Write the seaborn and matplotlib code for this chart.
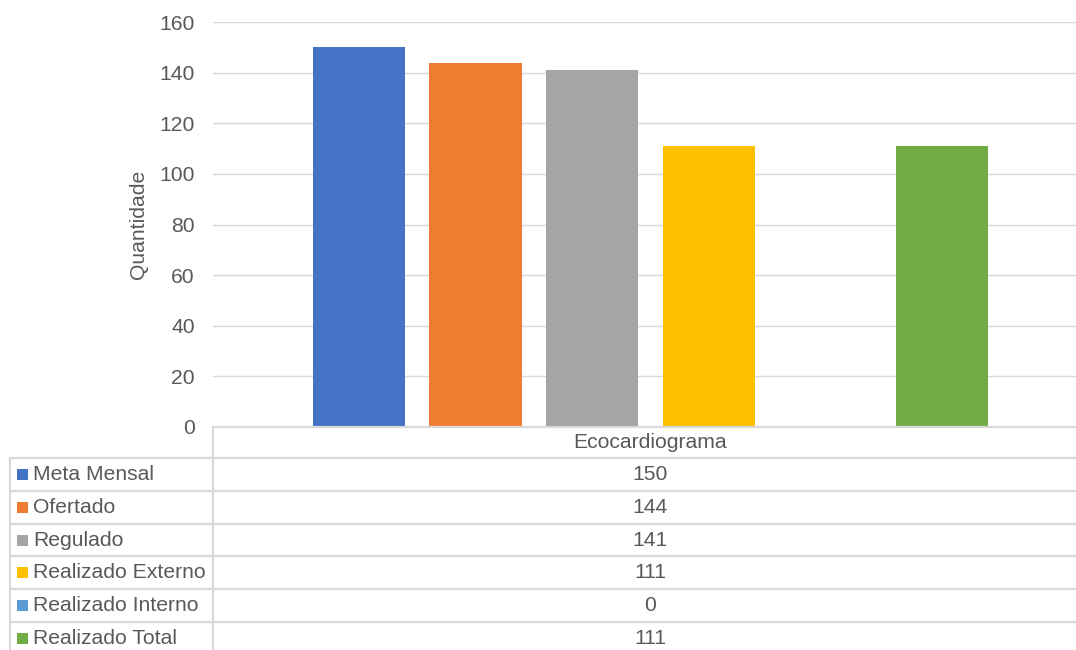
import pandas as pd
import matplotlib
matplotlib.use('Agg')
import matplotlib.pyplot as plt
from matplotlib.patches import Rectangle
import seaborn as sns

# data
exame = 'Ecocardiograma'
series = ['Meta Mensal', 'Ofertado', 'Regulado', 'Realizado Externo',
          'Realizado Interno', 'Realizado Total']
valores = [150, 144, 141, 111, 0, 111]
cores = ['#4472C4', '#ED7D31', '#A5A5A5', '#FFC000', '#5B9BD5', '#70AD47']
yticks = [0, 20, 40, 60, 80, 100, 120, 140, 160]

df = pd.DataFrame({'exame': exame, 'serie': series, 'valor': valores})

sns.set_style('white')
plt.rcParams['font.family'] = ['Liberation Sans', 'DejaVu Sans']
texto = '#595959'
linha = '#D9D9D9'
fs = 15.2

W, H = 1076, 650
fig = plt.figure(figsize=(W / 100, H / 100), dpi=100)

# plot area in pixels (Excel chart was cropped on the right)
left, right, top, bottom = 213, 1088, 22, 427
ax = fig.add_axes([left / W, 1 - bottom / H, (right - left) / W, (bottom - top) / H])

sns.barplot(data=df, x='exame', y='valor', hue='serie', palette=cores,
            width=0.8, gap=0.21, saturation=1, legend=False, errorbar=None,
            linewidth=0, ax=ax)

ax.set_xlim(-0.5, 0.5)
ax.set_ylim(0, 160)
ax.set_yticks(yticks)
ax.set_xticks([])
ax.yaxis.grid(True, color=linha, lw=1)
ax.set_axisbelow(True)
for s in ax.spines.values():
    s.set_visible(False)
ax.tick_params(axis='y', length=0, pad=13, labelsize=fs, labelcolor=texto)
ax.set_xlabel('')
ax.set_ylabel('Quantidade', fontsize=fs, color=texto, labelpad=8)

# data table drawn below the plot, in pixel coordinates
tab = fig.add_axes([0, 0, 1, 1])
tab.set_xlim(0, W)
tab.set_ylim(H, 0)
tab.axis('off')

header_h = 31
row_h = 32.8
tab_left = 10
cx = (left + right) / 2

tab.plot([left, W], [bottom, bottom], color=linha, lw=1.6)
tab.plot([left, left], [bottom, H], color=linha, lw=1.6)
tab.text(cx, bottom + header_h / 2, exame, ha='center', va='center',
         fontsize=fs, color=texto)

y0 = bottom + header_h
tab.plot([tab_left, tab_left], [y0, H], color=linha, lw=1.6)
for i, (nome, val, cor) in enumerate(zip(series, valores, cores)):
    yt = y0 + i * row_h
    yc = yt + row_h / 2
    tab.plot([tab_left, W], [yt, yt], color=linha, lw=1.6)
    tab.add_patch(Rectangle((17, yc - 5.5), 11, 11, color=cor, lw=0))
    tab.text(33, yc, nome, ha='left', va='center', fontsize=fs, color=texto)
    tab.text(cx, yc, f'{val}', ha='center', va='center', fontsize=fs, color=texto)

fig.savefig('out.png', dpi=100)
